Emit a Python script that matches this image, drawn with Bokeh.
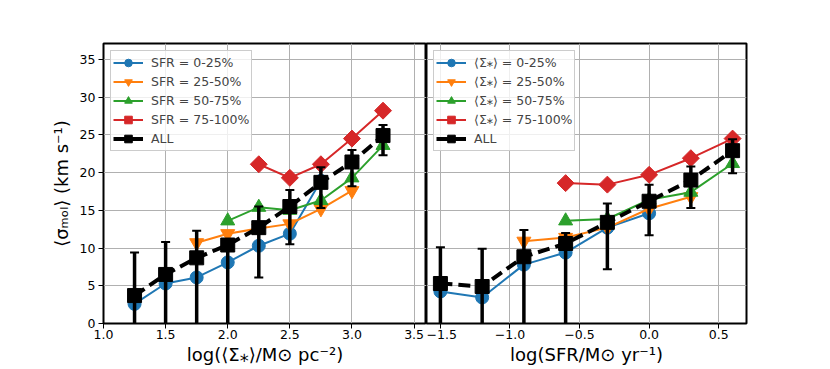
import numpy as np
from bokeh.plotting import figure
from bokeh.models import Range1d, FixedTicker, Legend, LegendItem
from bokeh.layouts import row
from bokeh.embed import file_html
from bokeh.resources import INLINE

# ---------------- data ----------------
left_x_ticks = [1.0, 1.5, 2.0, 2.5, 3.0, 3.5]
left_x_tick_labels = ["1.0", "1.5", "2.0", "2.5", "3.0", "3.5"]
right_x_ticks = [-1.5, -1.0, -0.5, 0.0, 0.5]
right_x_tick_labels = ["\u22121.5", "\u22121.0", "\u22120.5", "0.0", "0.5"]
y_ticks = [0, 5, 10, 15, 20, 25, 30, 35]
y_tick_labels = ["0", "5", "10", "15", "20", "25", "30", "35"]

# left panel: binned by stellar surface density, split by SFR quartile
L_q1_x = [1.25, 1.5, 1.75, 2.0, 2.25, 2.5, 2.75]
L_q1_y = [2.6, 5.3, 6.1, 8.1, 10.3, 11.9, 18.9]
L_q2_x = [1.75, 2.0, 2.25, 2.5, 2.75, 3.0]
L_q2_y = [10.7, 11.9, 12.6, 13.2, 15.2, 17.6]
L_q3_x = [2.0, 2.25, 2.5, 2.75, 3.0, 3.25]
L_q3_y = [13.6, 15.4, 15.0, 16.3, 19.3, 23.6]
L_q4_x = [2.25, 2.5, 2.75, 3.0, 3.25]
L_q4_y = [21.1, 19.3, 21.1, 24.5, 28.2]
L_all_x = [1.25, 1.5, 1.75, 2.0, 2.25, 2.5, 2.75, 3.0, 3.25]
L_all_y = [3.7, 6.5, 8.7, 10.4, 12.7, 15.5, 18.7, 21.4, 24.9]
L_all_hi = [9.4, 10.8, 12.3, 11.2, 15.5, 17.7, 20.7, 23.0, 26.3]
L_all_lo = [-1.0, -1.0, -1.0, -1.0, 6.1, 10.5, 15.3, 18.2, 22.3]

# right panel: binned by SFR, split by stellar surface density quartile
R_q1_x = [-1.5, -1.2, -0.9, -0.6, -0.3, 0.0]
R_q1_y = [4.25, 3.45, 7.8, 9.4, 12.7, 14.6]
R_q2_x = [-0.9, -0.6, -0.3, 0.0, 0.3]
R_q2_y = [10.9, 11.4, 12.7, 15.2, 16.8]
R_q3_x = [-0.6, -0.3, 0.0, 0.3, 0.6]
R_q3_y = [13.6, 13.85, 16.4, 17.4, 21.2]
R_q4_x = [-0.6, -0.3, 0.0, 0.3, 0.6]
R_q4_y = [18.6, 18.4, 19.7, 21.9, 24.5]
R_all_x = [-1.5, -1.2, -0.9, -0.6, -0.3, 0.0, 0.3, 0.6]
R_all_y = [5.3, 4.9, 8.85, 10.6, 13.4, 16.2, 19.0, 22.9]
R_all_hi = [10.1, 9.9, 12.4, 12.0, 15.9, 18.4, 20.8, 24.4]
R_all_lo = [-1.0, -1.0, -1.0, -1.0, 7.2, 11.7, 15.3, 19.9]

left_legend_labels = ["SFR = 0-25%", "SFR = 25-50%", "SFR = 50-75%", "SFR = 75-100%", "ALL"]
right_legend_labels = ["\u27e8\u03a3\u204e\u27e9 = 0-25%", "\u27e8\u03a3\u204e\u27e9 = 25-50%",
                       "\u27e8\u03a3\u204e\u27e9 = 50-75%", "\u27e8\u03a3\u204e\u27e9 = 75-100%", "ALL"]

left_xlabel = "log(\u27e8\u03a3\u204e\u27e9/M\u2299 pc\u207b\u00b2)"
right_xlabel = "log(SFR/M\u2299 yr\u207b\u00b9)"
ylabel = "\u27e8\u03c3\u2098\u2092\u2097\u27e9 (km s\u207b\u00b9)"

COLORS = ["#1f77b4", "#ff7f0e", "#2ca02c", "#d62728"]
FONT = "DejaVu Sans"
FIG_H = 369


def make_panel(xr, width, b_left, b_right, xticks, xlabels, xtitle, ytitle):
    p = figure(width=width, height=FIG_H, x_range=Range1d(*xr), y_range=Range1d(0, 37.1),
               output_backend="svg", toolbar_location=None,
               y_axis_location="left" if ytitle else None,
               min_border_left=b_left, min_border_right=b_right,
               min_border_top=43, min_border_bottom=46)
    p.outline_line_color = "black"
    p.outline_line_width = 2
    p.outline_line_alpha = 1
    p.background_fill_color = "white"
    p.border_fill_color = "white"
    p.xaxis.ticker = FixedTicker(ticks=xticks)
    p.xaxis.major_label_overrides = dict(zip(xticks, xlabels))
    p.xaxis.axis_label = xtitle
    p.xaxis.axis_label_standoff = 2
    p.xgrid.ticker = FixedTicker(ticks=xticks)
    p.ygrid.ticker = FixedTicker(ticks=y_ticks)
    for g in (p.xgrid, p.ygrid):
        g.grid_line_color = "#b0b0b0"
        g.grid_line_width = 1
        g.grid_line_alpha = 1
    axes = list(p.xaxis)
    if ytitle:
        p.yaxis.ticker = FixedTicker(ticks=y_ticks)
        p.yaxis.major_label_overrides = dict(zip(y_ticks, y_tick_labels))
        p.yaxis.axis_label = ytitle
        p.yaxis.axis_label_standoff = 5
        axes += list(p.yaxis)
    for ax in axes:
        ax.axis_line_color = None
        ax.major_tick_out = 5
        ax.major_tick_in = 0
        ax.minor_tick_line_color = None
        ax.major_tick_line_color = "black"
        ax.major_tick_line_width = 1
        ax.major_label_text_font = FONT
        ax.major_label_text_font_size = "12.5px"
        ax.major_label_text_color = "black"
        ax.major_label_standoff = 1
        ax.axis_label_text_font = FONT
        ax.axis_label_text_font_size = "18px"
        ax.axis_label_text_font_style = "normal"
        ax.axis_label_text_color = "black"
    if ytitle:
        for ax in p.yaxis:
            ax.major_label_standoff = 3
    return p


def add_series(p, xs, ys, color, marker, size, angle=0.0):
    ln = p.line(xs, ys, line_color=color, line_width=2)
    sc = p.scatter(xs, ys, marker=marker, size=size, fill_color=color, line_color=color, angle=angle)
    return [ln, sc]


def add_all(p, xs, ys, lo, hi):
    p.segment(x0=xs, y0=lo, x1=xs, y1=hi, line_color="black", line_width=3.5)
    p.scatter(xs, hi, marker="dash", size=9, line_color="black", line_width=2)
    p.scatter(xs, lo, marker="dash", size=9, line_color="black", line_width=2)
    ln = p.line(xs, ys, line_color="black", line_width=4, line_dash="12 6")
    sc = p.scatter(xs, ys, marker="square", size=14, fill_color="black", line_color="black")
    return [ln, sc]


def add_legend(p, labels, groups):
    items = [LegendItem(label=lab, renderers=rs) for lab, rs in zip(labels, groups)]
    lg = Legend(items=items, location="top_left", margin=7, padding=2, spacing=0,
                glyph_width=30, glyph_height=19, label_height=19, label_standoff=8,
                label_text_font=FONT, label_text_font_size="12.5px",
                border_line_color="#cccccc", border_line_width=1, border_line_alpha=1,
                background_fill_color="white", background_fill_alpha=0.8)
    p.add_layout(lg)


# ---------------- left panel ----------------
p1 = make_panel((1.0, 3.6), 103 + 323, 103, 0, left_x_ticks, left_x_tick_labels, left_xlabel, ylabel)
g1 = [add_series(p1, L_q1_x, L_q1_y, COLORS[0], "circle", 13),
      add_series(p1, L_q2_x, L_q2_y, COLORS[1], "inverted_triangle", 14),
      add_series(p1, L_q3_x, L_q3_y, COLORS[2], "triangle", 14),
      add_series(p1, L_q4_x, L_q4_y, COLORS[3], "square", 12, np.pi / 4),
      add_all(p1, L_all_x, L_all_y, L_all_lo, L_all_hi)]
add_legend(p1, left_legend_labels, g1)

# ---------------- right panel ----------------
p2 = make_panel((-1.6, 0.7), 340, 0, 20, right_x_ticks, right_x_tick_labels, right_xlabel, None)
g2 = [add_series(p2, R_q1_x, R_q1_y, COLORS[0], "circle", 13),
      add_series(p2, R_q2_x, R_q2_y, COLORS[1], "inverted_triangle", 14),
      add_series(p2, R_q3_x, R_q3_y, COLORS[2], "triangle", 14),
      add_series(p2, R_q4_x, R_q4_y, COLORS[3], "square", 12, np.pi / 4),
      add_all(p2, R_all_x, R_all_y, R_all_lo, R_all_hi)]
add_legend(p2, right_legend_labels, g2)

layout = row(p1, p2)
open("out.html", "w").write(file_html(layout, INLINE))
